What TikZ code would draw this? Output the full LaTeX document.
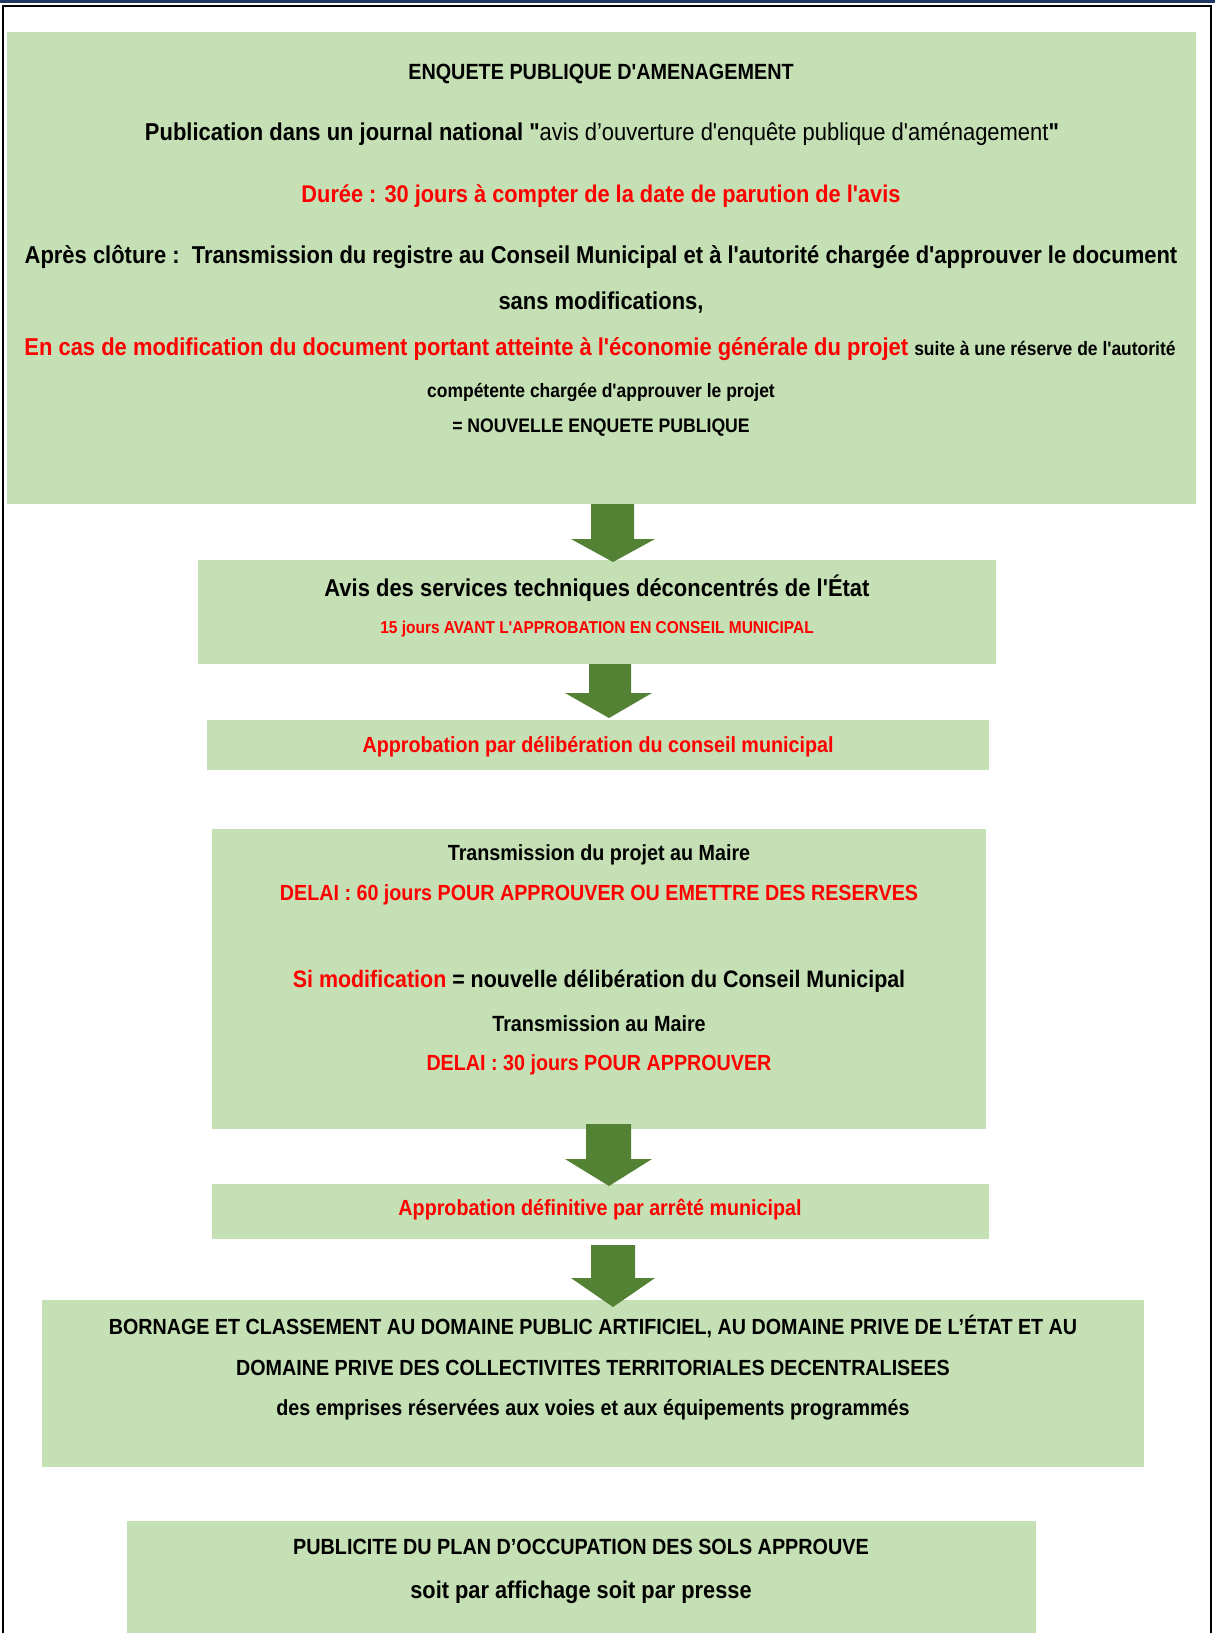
\documentclass[tikz,border=0pt]{standalone}
\usepackage{fontspec}
\newfontfamily\nf{Liberation Sans}[FakeStretch=0.9]
\usetikzlibrary{fit}
\definecolor{boxgreen}{HTML}{C5E0B4}
\definecolor{arrgreen}{HTML}{548235}
\definecolor{navy}{HTML}{1F3864}
\definecolor{redtxt}{HTML}{FF0000}
\newcommand\fsz[1]{\fontsize{#1}{#1}\selectfont}
\begin{document}
\begin{tikzpicture}[x=0.5pt,y=-0.5pt,
  box/.style={fill=boxgreen, inner sep=0pt, draw=none},
  txt/.style={inner sep=0pt, font=\nf\bfseries, text=black},
  rtxt/.style={inner sep=0pt, font=\nf\bfseries, text=redtxt},
  arr/.style={fill=arrgreen, draw=none}]
\useasboundingbox (0,0) rectangle (1215,1633);
\fill[white] (0,0) rectangle (1215,1633);
% frame
\draw[navy, line width=1.5pt] (0,1) -- (1215,1);
\draw[black, line width=1.2pt] (3,1640) -- (3,6) -- (1211,6) -- (1211,1640);
% boxes
\node[box, fit={(7,32)(1196,504)}] (b1) {};
\node[box, fit={(198,560)(996,664)}] (b2) {};
\node[box, fit={(207,720)(989,770)}] (b3) {};
\node[box, fit={(212,829)(986,1129)}] (b4) {};
\node[box, fit={(212,1184)(989,1239)}] (b5) {};
\node[box, fit={(42,1300)(1144,1467)}] (b6) {};
\node[box, fit={(127,1521)(1036,1640)}] (b7) {};
% arrows
\fill[arr] (591,504) -- (634,504) -- (634,539) -- (655,539) -- (613,562) -- (571,539) -- (591,539) -- cycle;
\fill[arr] (589,664) -- (631,664) -- (631,693) -- (652,693) -- (609,718) -- (565,693) -- (589,693) -- cycle;
\fill[arr] (586,1124) -- (631,1124) -- (631,1159) -- (652,1159) -- (609,1186) -- (565,1159) -- (586,1159) -- cycle;
\fill[arr] (591,1245) -- (635,1245) -- (635,1278) -- (655,1278) -- (613,1307) -- (571,1278) -- (591,1278) -- cycle;
% box 1 texts
\node[txt] (t11) at (601,74) {\fsz{11pt}ENQUETE PUBLIQUE D'AMENAGEMENT};
\node[txt] (t12) at (602,134) {\fsz{12.2pt}Publication dans un journal national "\mdseries avis d’ouverture d'enquête publique d'aménagement\bfseries"};
\node[rtxt] (t13) at (601,196) {\fsz{12.1pt}Durée : 30 jours à compter de la date de parution de l'avis};
\node[txt] (t14) at (601,257) {\fsz{12.2pt}Après clôture :\ \ Transmission du registre au Conseil Municipal et à l'autorité chargée d'approuver le document};
\node[txt] (t15) at (601,303) {\fsz{12.2pt}sans modifications,};
\node[txt] (t16) at (600,349) {\fsz{12.2pt}\textcolor{redtxt}{En cas de modification du document portant atteinte à l'économie générale du projet} {\fsz{9.7pt}suite à une réserve de l'autorité}};
\node[txt] (t17) at (601,392) {\fsz{9.7pt}compétente chargée d'approuver le projet};
\node[txt] (t18) at (601,428) {\fsz{9.8pt}= NOUVELLE ENQUETE PUBLIQUE};
% box 2
\node[txt] (t21) at (597,588) {\fsz{12.2pt}Avis des services techniques déconcentrés de l'État};
\node[rtxt] (t22) at (597,629) {\fsz{8.6pt}15 jours AVANT L'APPROBATION EN CONSEIL MUNICIPAL};
% box 3
\node[rtxt] (t31) at (598,747) {\fsz{10.95pt}Approbation par délibération du conseil municipal};
% box 4
\node[txt] (t41) at (599,855) {\fsz{10.95pt}Transmission du projet au Maire};
\node[rtxt] (t42) at (599,895) {\fsz{10.95pt}DELAI : 60 jours POUR APPROUVER OU EMETTRE DES RESERVES};
\node[txt] (t43) at (599,981) {\fsz{11.9pt}\textcolor{redtxt}{Si modification} = nouvelle délibération du Conseil Municipal};
\node[txt] (t44) at (599,1024) {\fsz{11pt}Transmission au Maire};
\node[rtxt] (t45) at (599,1065) {\fsz{10.95pt}DELAI : 30 jours POUR APPROUVER};
% box 5
\node[rtxt] (t51) at (600,1210) {\fsz{10.95pt}Approbation définitive par arrêté municipal};
% box 6
\node[txt] (t61) at (593,1326) {\fsz{10.95pt}BORNAGE ET CLASSEMENT AU DOMAINE PUBLIC ARTIFICIEL, AU DOMAINE PRIVE DE L’ÉTAT ET AU};
\node[txt] (t62) at (593,1368) {\fsz{10.95pt}DOMAINE PRIVE DES COLLECTIVITES TERRITORIALES DECENTRALISEES};
\node[txt] (t63) at (593,1410) {\fsz{10.95pt}des emprises réservées aux voies et aux équipements programmés};
% box 7
\node[txt] (t71) at (581,1547) {\fsz{11pt}PUBLICITE DU PLAN D’OCCUPATION DES SOLS APPROUVE};
\node[txt] (t72) at (581,1592) {\fsz{12.1pt}soit par affichage soit par presse};
\end{tikzpicture}
\end{document}
